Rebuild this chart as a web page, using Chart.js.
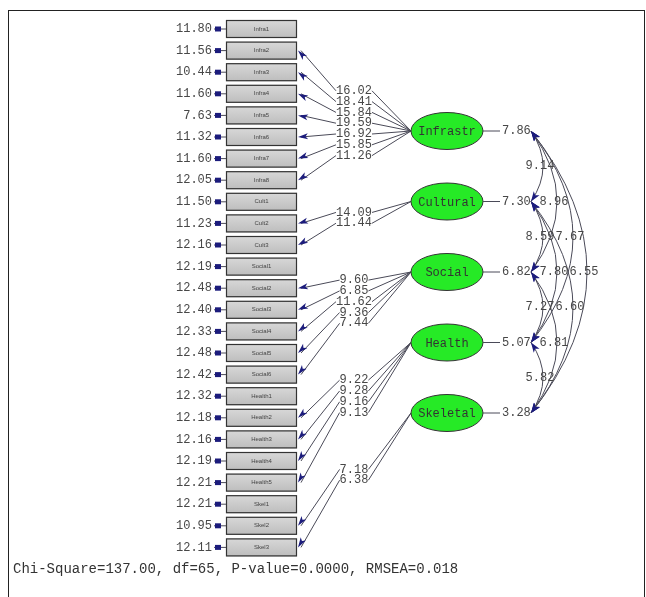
<!DOCTYPE html>
<html>
<head>
<meta charset="utf-8">
<script src="https://cdn.jsdelivr.net/npm/chart.js@4/dist/chart.umd.min.js"></script>
<style>
  html, body { margin: 0; padding: 0; background: #fff; }
  #wrap { width: 646px; height: 597px; }
</style>
</head>
<body>
<div id="wrap"><canvas id="pathChart" width="646" height="597"></canvas></div>
<script>
/* ── LISREL path diagram (t-values) ─────────────────────── */

// observed indicators, top to bottom
var indicators = ['Infra1', 'Infra2', 'Infra3', 'Infra4', 'Infra5', 'Infra6', 'Infra7', 'Infra8',
  'Cult1', 'Cult2', 'Cult3',
  'Social1', 'Social2', 'Social3', 'Social4', 'Social5', 'Social6',
  'Health1', 'Health2', 'Health3', 'Health4', 'Health5',
  'Skel1', 'Skel2', 'Skel3'];
var errorVariances = [11.80, 11.56, 10.44, 11.60, 7.63, 11.32, 11.60, 12.05,
  11.50, 11.23, 12.16,
  12.19, 12.48, 12.40, 12.33, 12.48, 12.42,
  12.32, 12.18, 12.16, 12.19, 12.21,
  12.21, 10.95, 12.11];
// null = fixed loading (no t-value shown)
var loadingT = [null, 16.02, 18.41, 15.84, 19.59, 16.92, 15.85, 11.26,
  null, 14.09, 11.44,
  null, 9.60, 6.85, 11.62, 9.36, 7.44,
  null, 9.22, 9.28, 9.16, 9.13,
  null, 7.18, 6.38];
var indicatorFactor = [0, 0, 0, 0, 0, 0, 0, 0, 1, 1, 1, 2, 2, 2, 2, 2, 2, 3, 3, 3, 3, 3, 4, 4, 4];

var factors = ['Infrastr', 'Cultural', 'Social', 'Health', 'Skeletal'];
var factorT = [7.86, 7.30, 6.82, 5.07, 3.28];

// covariances between latent factors
var corrFrom = [0, 0, 1, 0, 1, 2, 0, 1, 2, 3];
var corrTo   = [1, 2, 2, 3, 3, 3, 4, 4, 4, 4];
var corrT    = [9.14, 8.96, 8.59, 7.67, 7.80, 7.27, 6.55, 6.60, 6.81, 5.82];

var fitStats = 'Chi-Square=137.00, df=65, P-value=0.0000, RMSEA=0.018';

// layout (diagram units = pixels of the original figure)
var ROW0 = 29, ROW_STEP = 21.6;
var BOX_X = 226, BOX_W = 71, BOX_H = 18;
var FAC0 = 131, FAC_STEP = 70.5;
var ELL_X = 447, ELL_RX = 36, ELL_RY = 18.5;
var CORR_X = 531;
var CORR_APEX = [0, 543, 557, 573, 587];
var CORR_LABEL = [0, 540, 554, 570, 584];

var MONO = '"Liberation Mono", "DejaVu Sans Mono", monospace';
var INK = '#474747';
var NAVY = '#1c1c7c';
var WIRE = '#4a4a58';

function rowY(i) { return ROW0 + i * ROW_STEP; }
function facY(f) { return FAC0 + f * FAC_STEP; }

function arrowHead(ctx, tx, ty, fx, fy, len, half) {
  var a = Math.atan2(ty - fy, tx - fx);
  ctx.save();
  ctx.translate(tx, ty);
  ctx.rotate(a);
  ctx.beginPath();
  ctx.moveTo(0, 0);
  ctx.lineTo(-len, -half);
  ctx.lineTo(-len * 0.75, 0);
  ctx.lineTo(-len, half);
  ctx.closePath();
  ctx.fillStyle = NAVY;
  ctx.fill();
  ctx.restore();
}

var diagramPlugin = {
  id: 'diagram',
  afterDatasetsDraw: function (chart) {
    var ctx = chart.ctx;
    var sx = chart.scales.x, sy = chart.scales.y;
    function X(v) { return sx.getPixelForValue(v); }
    function Y(v) { return sy.getPixelForValue(v); }

    ctx.save();

    // frame
    ctx.strokeStyle = '#222';
    ctx.lineWidth = 1;
    ctx.strokeRect(X(8) + 0.5, Y(10) + 0.5, X(645) - X(8) - 1, Y(605) - Y(10));

    // observed variable boxes + error terms
    indicators.forEach(function (name, i) {
      var y = Y(rowY(i));
      var x0 = X(BOX_X), x1 = X(BOX_X + BOX_W);
      var top = y - BOX_H / 2;
      var g = ctx.createLinearGradient(0, top, 0, top + BOX_H);
      g.addColorStop(0, '#d8d8d8');
      g.addColorStop(1, '#bdbdbd');
      ctx.fillStyle = g;
      ctx.fillRect(x0, top, x1 - x0, BOX_H);
      ctx.strokeStyle = '#333';
      ctx.lineWidth = 1.2;
      ctx.strokeRect(x0 + 0.5, top + 0.5, x1 - x0 - 1, BOX_H - 1);

      ctx.fillStyle = '#444';
      ctx.font = '6px "Liberation Sans", Arial, sans-serif';
      ctx.textAlign = 'center';
      ctx.textBaseline = 'middle';
      ctx.fillText(name, (x0 + x1) / 2, y);

      // error variance
      ctx.fillStyle = INK;
      ctx.font = '12px ' + MONO;
      ctx.textAlign = 'right';
      ctx.fillText(errorVariances[i].toFixed(2), X(212), y);
      ctx.strokeStyle = WIRE;
      ctx.lineWidth = 1;
      ctx.beginPath();
      ctx.moveTo(X(214), y);
      ctx.lineTo(x0, y);
      ctx.stroke();
      ctx.fillStyle = NAVY;
      ctx.fillRect(X(215), y - 2.5, 6, 5);
    });

    // loadings
    indicators.forEach(function (name, i) {
      var t = loadingT[i];
      if (t === null) return;
      var f = indicatorFactor[i];
      var ex = X(ELL_X - ELL_RX), ey = Y(facY(f));
      var bx = X(BOX_X + BOX_W), by = Y(rowY(i));
      var mx = (ex + bx) / 2, my = (ey + by) / 2;
      var label = t.toFixed(2);
      ctx.font = '12px ' + MONO;
      var hw = ctx.measureText(label).width / 2;

      ctx.strokeStyle = WIRE;
      ctx.lineWidth = 1;
      ctx.beginPath();
      ctx.moveTo(ex, ey);
      ctx.lineTo(mx + hw, my);
      ctx.moveTo(mx - hw, my);
      ctx.lineTo(bx + 4, by);
      ctx.stroke();
      arrowHead(ctx, bx + 1, by, mx - hw, my, 10, 3);

      ctx.fillStyle = INK;
      ctx.textAlign = 'center';
      ctx.textBaseline = 'middle';
      ctx.fillText(label, mx, my);
    });

    // factor covariance arcs
    corrT.forEach(function (v, k) {
      var a = corrFrom[k], b = corrTo[k];
      var span = b - a;
      var x0 = X(CORR_X);
      var y0 = Y(facY(a)), y1 = Y(facY(b));
      var apex = X(CORR_APEX[span]);
      var cx = 2 * apex - x0, cy = (y0 + y1) / 2;
      ctx.strokeStyle = WIRE;
      ctx.lineWidth = 1;
      ctx.beginPath();
      ctx.moveTo(x0, y0);
      ctx.quadraticCurveTo(cx, cy, x0, y1);
      ctx.stroke();
      arrowHead(ctx, x0, y0, x0 + (cx - x0) * 0.3, y0 + (cy - y0) * 0.3, 10, 3.5);
      arrowHead(ctx, x0, y1, x0 + (cx - x0) * 0.3, y1 + (cy - y1) * 0.3, 10, 3.5);
    });

    // latent factors
    factors.forEach(function (name, f) {
      var cx = X(ELL_X), cy = Y(facY(f));
      ctx.beginPath();
      ctx.ellipse(cx, cy, ELL_RX, ELL_RY, 0, 0, Math.PI * 2);
      ctx.fillStyle = '#26ea26';
      ctx.fill();
      ctx.strokeStyle = '#333';
      ctx.lineWidth = 1;
      ctx.stroke();

      ctx.fillStyle = '#333';
      ctx.font = '12px ' + MONO;
      ctx.textAlign = 'center';
      ctx.textBaseline = 'middle';
      ctx.fillText(name, cx, cy + 1);

      ctx.strokeStyle = WIRE;
      ctx.beginPath();
      ctx.moveTo(cx + ELL_RX, cy);
      ctx.lineTo(X(500), cy);
      ctx.stroke();
      ctx.fillStyle = INK;
      ctx.textAlign = 'left';
      ctx.fillText(factorT[f].toFixed(2), X(502), cy);
    });

    // covariance labels on top
    corrT.forEach(function (v, k) {
      var span = corrTo[k] - corrFrom[k];
      var cy = Y((facY(corrFrom[k]) + facY(corrTo[k])) / 2);
      ctx.fillStyle = INK;
      ctx.font = '12px ' + MONO;
      ctx.textAlign = 'center';
      ctx.textBaseline = 'middle';
      ctx.fillText(v.toFixed(2), X(CORR_LABEL[span]), cy);
    });

    // fit statistics
    ctx.fillStyle = '#333';
    ctx.font = '14px ' + MONO;
    ctx.textAlign = 'left';
    ctx.textBaseline = 'middle';
    ctx.fillText(fitStats, X(13), Y(569));

    ctx.restore();
  }
};

document.addEventListener('DOMContentLoaded', function () {
  var ctx = document.getElementById('pathChart');
  new Chart(ctx, {
    type: 'scatter',
    data: {
      datasets: [{
        label: 'indicators',
        data: indicators.map(function (n, i) { return { x: BOX_X + BOX_W / 2, y: rowY(i) }; }),
        pointRadius: 0
      }]
    },
    options: {
      responsive: false,
      animation: false,
      layout: { padding: 0 },
      scales: {
        x: { type: 'linear', min: 0, max: 646, display: false },
        y: { type: 'linear', min: 0, max: 597, reverse: true, display: false }
      },
      plugins: { legend: { display: false }, tooltip: { enabled: false } }
    },
    plugins: [diagramPlugin]
  });
});
</script>
</body>
</html>
